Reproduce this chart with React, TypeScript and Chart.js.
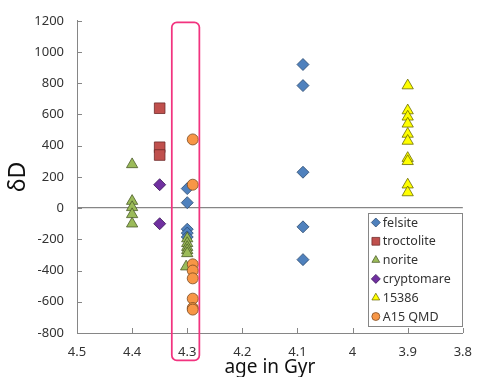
import React, { useEffect, useRef } from "react";
import { Chart, registerables } from "chart.js";

Chart.register(...registerables);

// ---- data ----
const SERIES_NAMES = ["felsite", "troctolite", "norite", "cryptomare", "15386", "A15 QMD"];

const felsiteX = [4.3, 4.3, 4.3, 4.3, 4.3, 4.09, 4.09, 4.09, 4.09, 4.09];
const felsiteY = [125, 35, -135, -160, -185, 920, 785, 230, -120, -330];

const troctoliteX = [4.35, 4.35, 4.35];
const troctoliteY = [640, 390, 340];

const noriteX = [4.4, 4.4, 4.4, 4.4, 4.4, 4.3, 4.3, 4.3, 4.3, 4.3, 4.302];
const noriteY = [280, 45, 5, -40, -100, -195, -225, -250, -270, -290, -375];

const cryptomareX = [4.35, 4.35];
const cryptomareY = [150, -100];

const s15386X = [3.9, 3.9, 3.9, 3.9, 3.9, 3.9, 3.9, 3.9, 3.9, 3.9];
const s15386Y = [785, 625, 585, 540, 475, 430, 320, 300, 150, 100];

const qmdX = [4.29, 4.29, 4.29, 4.29, 4.29, 4.29, 4.29, 4.29];
const qmdY = [440, 150, -360, -400, -450, -580, -640, -650];

const X_TICKS = [4.5, 4.4, 4.3, 4.2, 4.1, 4.0, 3.9, 3.8];
const Y_TICKS = [-800, -600, -400, -200, 0, 200, 400, 600, 800, 1000, 1200];

const X_TITLE = "age in Gyr";
const Y_TITLE = "δD";

// highlighted age window (data units)
const HIGHLIGHT_X = [4.328, 4.278];
const HIGHLIGHT_Y = [1190, -975];

const SERIES_X = [felsiteX, troctoliteX, noriteX, cryptomareX, s15386X, qmdX];
const SERIES_Y = [felsiteY, troctoliteY, noriteY, cryptomareY, s15386Y, qmdY];

// ---- styles ----
const STYLES = [
  { pointStyle: "rectRot", radius: 6, fill: "#4F81BD", border: "#2c4a6e" },
  { pointStyle: "rect", radius: 7.5, fill: "#C0504D", border: "#6e2a28" },
  { pointStyle: "triangle", radius: 6.5, fill: "#9BBB59", border: "#4a5a28" },
  { pointStyle: "rectRot", radius: 6, fill: "#7030A0", border: "#3a1656" },
  { pointStyle: "triangle", radius: 6.5, fill: "#FFFF00", border: "#6b6b00" },
  { pointStyle: "circle", radius: 5.5, fill: "#F79646", border: "#7a4a20" },
];

const AXIS_COLOR = "#868686";
const TEXT_COLOR = "#333333";
const FONT = "'Noto Sans', 'DejaVu Sans', sans-serif";

const innerTicksPlugin = {
  id: "innerTicks",
  afterDraw(chart: any) {
    const { ctx, chartArea } = chart;
    const xs = chart.scales.x;
    const ys = chart.scales.y;
    ctx.save();
    ctx.strokeStyle = AXIS_COLOR;
    ctx.lineWidth = 1;
    ctx.beginPath();
    for (const v of X_TICKS) {
      const px = Math.round(xs.getPixelForValue(v)) + 0.5;
      ctx.moveTo(px, chartArea.bottom);
      ctx.lineTo(px, chartArea.bottom - 5);
    }
    for (const v of Y_TICKS) {
      const py = Math.round(ys.getPixelForValue(v)) + 0.5;
      ctx.moveTo(chartArea.left, py);
      ctx.lineTo(chartArea.left + 5, py);
    }
    ctx.stroke();
    ctx.restore();
  },
};

const highlightPlugin = {
  id: "highlight",
  afterDraw(chart: any) {
    const { ctx } = chart;
    const xs = chart.scales.x;
    const ys = chart.scales.y;
    const x1 = xs.getPixelForValue(HIGHLIGHT_X[0]);
    const x2 = xs.getPixelForValue(HIGHLIGHT_X[1]);
    const y1 = ys.getPixelForValue(HIGHLIGHT_Y[0]);
    const y2 = ys.getPixelForValue(HIGHLIGHT_Y[1]);
    const l = Math.min(x1, x2), r = Math.max(x1, x2);
    const t = Math.min(y1, y2), b = Math.max(y1, y2);
    const rad = 5;
    ctx.save();
    ctx.strokeStyle = "#F2337F";
    ctx.lineWidth = 1.75;
    ctx.beginPath();
    ctx.moveTo(l + rad, t);
    ctx.lineTo(r - rad, t);
    ctx.arcTo(r, t, r, t + rad, rad);
    ctx.lineTo(r, b - rad);
    ctx.arcTo(r, b, r - rad, b, rad);
    ctx.lineTo(l + rad, b);
    ctx.arcTo(l, b, l, b - rad, rad);
    ctx.lineTo(l, t + rad);
    ctx.arcTo(l, t, l + rad, t, rad);
    ctx.closePath();
    ctx.stroke();
    ctx.restore();
  },
};

function drawMarker(ctx: CanvasRenderingContext2D, style: string, r: number, x: number, y: number) {
  ctx.beginPath();
  if (style === "circle") {
    ctx.arc(x, y, r, 0, Math.PI * 2);
  } else if (style === "rect") {
    const s = r * Math.SQRT1_2;
    ctx.rect(x - s, y - s, 2 * s, 2 * s);
  } else if (style === "rectRot") {
    ctx.moveTo(x - r, y);
    ctx.lineTo(x, y - r);
    ctx.lineTo(x + r, y);
    ctx.lineTo(x, y + r);
    ctx.closePath();
  } else if (style === "triangle") {
    ctx.moveTo(x, y - r);
    ctx.lineTo(x + r * Math.sin((2 * Math.PI) / 3), y - r * Math.cos((2 * Math.PI) / 3));
    ctx.lineTo(x + r * Math.sin((4 * Math.PI) / 3), y - r * Math.cos((4 * Math.PI) / 3));
    ctx.closePath();
  }
  ctx.fill();
  ctx.stroke();
}

const boxLegendPlugin = {
  id: "boxLegend",
  afterDraw(chart: any) {
    const { ctx, chartArea } = chart;
    const w = 94;
    const h = 113;
    const right = chartArea.right - 1;
    const bottom = chartArea.bottom - 7;
    const left = right - w;
    const top = bottom - h;
    ctx.save();
    ctx.fillStyle = "#ffffff";
    ctx.fillRect(left, top, w, h);
    ctx.strokeStyle = AXIS_COLOR;
    ctx.lineWidth = 1;
    ctx.strokeRect(Math.round(left) + 0.5, Math.round(top) + 0.5, w, h);
    const rowH = 18.8;
    ctx.font = `12.5px ${FONT}`;
    ctx.textBaseline = "middle";
    ctx.textAlign = "left";
    chart.data.datasets.forEach((ds: any, i: number) => {
      const cy = top + 9.5 + i * rowH;
      const cx = left + 8;
      const st = STYLES[i];
      const rr = st.pointStyle === "rect" ? 5.5 : st.pointStyle === "circle" ? 4 : 4.5;
      ctx.fillStyle = st.fill;
      ctx.strokeStyle = st.border;
      ctx.lineWidth = 0.75;
      drawMarker(ctx, st.pointStyle, rr, cx, cy);
      ctx.fillStyle = TEXT_COLOR;
      ctx.fillText(ds.label, cx + 7, cy + 0.5);
    });
    ctx.restore();
  },
};

export default function App() {
  const canvasRef = useRef<HTMLCanvasElement | null>(null);

  useEffect(() => {
    if (!canvasRef.current) return;
    const datasets = SERIES_NAMES.map((name, i) => ({
      label: name,
      data: SERIES_X[i].map((x, j) => ({ x, y: SERIES_Y[i][j] })),
      pointStyle: STYLES[i].pointStyle,
      pointRadius: STYLES[i].radius,
      pointHoverRadius: STYLES[i].radius,
      backgroundColor: STYLES[i].fill,
      borderColor: STYLES[i].border,
      pointBorderWidth: 0.8,
      showLine: false,
      order: SERIES_NAMES.length - i,
    }));

    const chart = new Chart(canvasRef.current, {
      type: "scatter",
      data: { datasets },
      options: {
        animation: false,
        responsive: false,
        maintainAspectRatio: false,
        layout: { padding: { top: 15, right: 11, left: 0, bottom: 0 } },
        plugins: {
          legend: { display: false },
          tooltip: { enabled: false },
        },
        scales: {
          x: {
            type: "linear",
            min: 3.8,
            max: 4.5,
            reverse: true,
            afterBuildTicks: (s: any) => {
              s.ticks = X_TICKS.map((v) => ({ value: v }));
            },
            afterFit: (s: any) => {
              s.height = 44;
            },
            ticks: {
              autoSkip: false,
              maxRotation: 0,
              padding: 11,
              color: TEXT_COLOR,
              font: { family: FONT, size: 13 },
              callback: (v: any) => String(Number(Number(v).toFixed(1))),
            },
            grid: { display: true, drawOnChartArea: false, drawTicks: false },
            border: { display: true, color: AXIS_COLOR, width: 1 },
            title: {
              display: true,
              text: X_TITLE,
              color: "#111111",
              font: { family: FONT, size: 19, lineHeight: 1 },
              padding: { top: 0, bottom: 0 },
            },
          },
          y: {
            type: "linear",
            min: -800,
            max: 1200,
            afterBuildTicks: (s: any) => {
              s.ticks = Y_TICKS.map((v) => ({ value: v }));
            },
            afterFit: (s: any) => {
              s.width = 77;
            },
            ticks: {
              autoSkip: false,
              padding: 13,
              color: TEXT_COLOR,
              font: { family: FONT, size: 13 },
              callback: (v: any) => String(v),
            },
            grid: {
              display: true,
              drawOnChartArea: true,
              drawTicks: false,
              color: (c: any) => (c.tick && c.tick.value === 0 ? AXIS_COLOR : "rgba(0,0,0,0)"),
              lineWidth: (c: any) => (c.tick && c.tick.value === 0 ? 1.3 : 0),
            },
            border: { display: true, color: AXIS_COLOR, width: 1 },
            title: {
              display: true,
              text: Y_TITLE,
              color: "#111111",
              font: { family: FONT, size: 23, lineHeight: 1 },
              padding: { top: 7, bottom: 0 },
            },
          },
        },
      },
      plugins: [innerTicksPlugin, highlightPlugin, boxLegendPlugin],
    } as any);

    return () => chart.destroy();
  }, []);

  return (
    <div style={{ position: "fixed", left: 0, top: 0, width: 483, height: 377, background: "#fff" }}>
      <canvas ref={canvasRef} width={483} height={377} style={{ width: 483, height: 377, display: "block" }} />
    </div>
  );
}
